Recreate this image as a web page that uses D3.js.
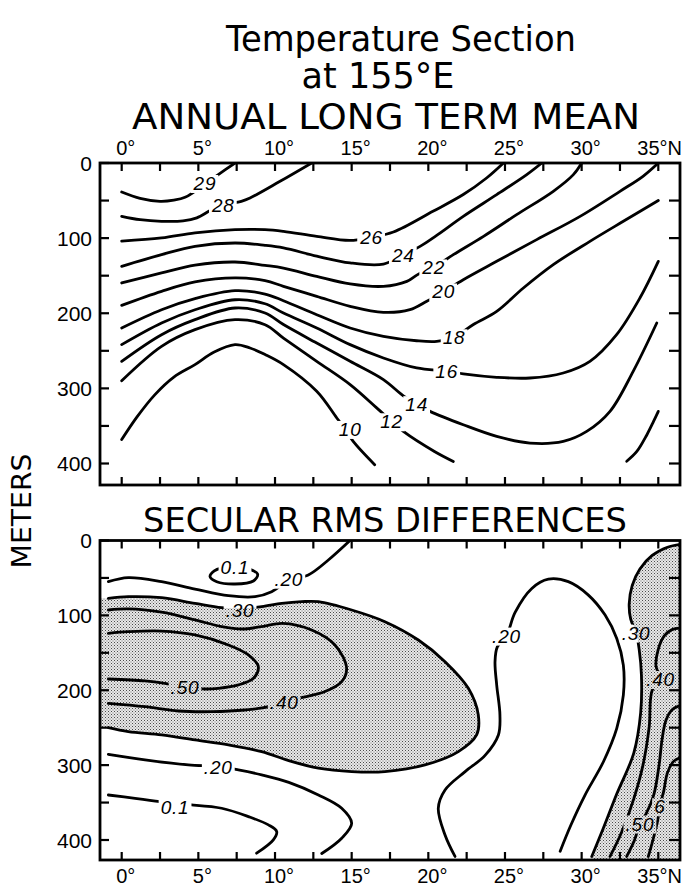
<!DOCTYPE html>
<html>
<head>
<meta charset="utf-8">
<script src="https://cdn.jsdelivr.net/npm/d3@7"></script>
<style>
  html, body { margin: 0; padding: 0; background: #fff; }
  svg { display: block; }
  text { font-family: "DejaVu Sans", "Liberation Sans", sans-serif; fill: #000; }
  .num { font-family: "Liberation Sans", "DejaVu Sans", sans-serif; }
</style>
</head>
<body>
<svg id="chart" width="690" height="888"></svg>
<script>
// ---- Axis ticks -------------------------------------------------------
const latTicks = [0, 5, 10, 15, 20, 25, 30, 35];
const latTickLabels = ["0°", "5°", "10°", "15°", "20°", "25°", "30°", "35°N"];
const latMinorTicks = [0, 2.5, 5, 7.5, 10, 12.5, 15, 17.5, 20, 22.5, 25, 27.5, 30, 32.5, 35];
const depthTicks = [0, 100, 200, 300, 400];
const depthMinorTicks = [0, 50, 100, 150, 200, 250, 300, 350, 400];

// ---- Annual long term mean temperature (°C): [latitude °N, depth m] ----
const t29 = [[0,38.6],[1.2,47],[2.5,51],[3.4,49.5],[4.13,45.7],[5.43,28],[6.3,15.5],[7.39,0]];
const t28 = [[0,71],[1.2,75.5],[2.6,77.6],[4.0,77],[4.9,73],[5.8,63],[6.63,55.5],[7.8,51],[8.37,46.6],[10.33,24.4],[12.39,0]];
const t26 = [[0,104],[2.6,99.8],[4.78,93],[7.39,88.7],[9.35,88.7],[10.55,91],[12.72,97.6],[14.9,103],[16.3,98.5],[17.72,91.8],[20.3,64.3],[22.28,42],[23.8,20],[24.9,0]];
const t24 = [[0,137.5],[2.6,122],[4.78,110.9],[7.39,106.5],[9.35,109.6],[10.55,113],[12.72,124],[14.9,133],[17.07,134.5],[18.37,122],[19.46,111],[20.5,97],[22.28,71],[24.46,42.1],[26.42,15.5],[27.4,0]];
const t22 = [[0,159.7],[2.6,146.4],[4.78,136],[7.39,131.8],[9.35,136.3],[10.55,139.8],[12.72,150.9],[14.9,161],[17.07,164.2],[18.6,157.6],[19.3,148.6],[20.35,139],[21.63,122],[23.6,97.6],[25.76,68.8],[28.15,37.7],[29.46,15.5],[30.0,0]];
const t20 = [[0,189.5],[2.6,170.8],[4.78,158.4],[7.39,153],[9.35,156.6],[10.55,164.2],[12.72,177.5],[14.9,190.8],[17.07,198.8],[18.8,195.2],[19.9,184],[21.0,171],[22.28,155.3],[24.46,130.9],[27.07,102],[29.9,71],[32.5,37.7],[34.0,17.7],[35,0]];
const t18 = [[0,219.6],[2.6,195.3],[4.78,180.6],[7.39,170],[9.35,174.4],[10.55,183.3],[12.72,201.9],[14.9,219.6],[17.07,230.8],[19.24,236.6],[20.55,237.4],[21.68,232],[22.94,215],[24.46,197.5],[26.2,166.4],[28.15,135.3],[30.54,104.3],[32.72,77.6],[35.0,50]];
const t16 = [[0,241.8],[2.6,213],[4.78,195.3],[7.39,182],[9.35,187.4],[10.55,199.7],[12.72,219.6],[14.9,241.8],[17.07,259.5],[19.24,272.8],[21.2,277],[22.28,280.8],[24.46,285.3],[26.63,286.2],[28.8,279.5],[30.54,264],[32.28,228.5],[33.8,179.7],[35.0,130.9]];
const t14 = [[0,264],[2.6,228.5],[4.78,208.5],[7.39,193],[9.35,199.7],[10.55,215],[12.72,239.6],[14.9,264],[17.07,288.4],[18.37,310],[19.24,321],[20.11,330.6],[22.28,348.4],[24.46,363.9],[26.63,372.8],[28.8,370.6],[30.33,357.3],[31.85,330.6],[33.37,277],[34.9,213]];
const t12 = [[0,289.8],[2.6,244],[4.78,221.8],[7.39,208.5],[9.35,215.2],[10.55,233],[12.72,264],[14.9,295],[16.63,326],[17.6,343.8],[18.37,357.3],[20.4,384],[21.63,397.3]];
const t12east = [[32.94,397],[33.6,384],[34.25,362],[34.69,344],[35.0,330.6]];
const t10 = [[0,368.2],[1.0,338],[2.17,308.3],[3.4,285],[4.78,268.4],[6.0,252],[7.39,241.8],[8.37,246.2],[9.35,255],[10.55,268.4],[12.72,303.9],[14.03,339.4],[14.6,355],[15.1,370.6],[16.5,401.6]];
const meanLabels = [
  ["29", 5.43, 26.6], ["28", 6.63, 55.5], ["26", 16.3, 98.5], ["24", 18.37, 122],
  ["22", 20.35, 139], ["20", 21.0, 171], ["18", 21.68, 232], ["16", 21.2, 277],
  ["14", 19.24, 321], ["12", 17.6, 343.8], ["10", 14.9, 354]
];

// ---- Secular RMS differences (°C): [latitude °N, depth m] ----------------
const r20north = [[-0.87,55],[0.43,49.6],[2.6,55],[4.78,64.8],[6.96,73.7],[8.7,75],[9.78,68.4],[10.9,53],[12.17,46],[13.48,26],[14.89,0]];
const r01loop = [[8.37,38.5],[8.87,45.2],[8.59,54.1],[7.39,58.1],[6.2,55],[5.76,48.3],[6.04,40.7],[6.48,37],[7.39,35.5]];
const r30 = [[-0.87,77.2],[0.43,75],[2.6,76.4],[4.78,84],[6.52,89.7],[7.72,90.5],[9.13,88.4],[10.44,84],[11.74,81.7],[12.83,81.7],[15.0,92.8],[17.17,108.4],[19.35,132.9],[21.09,161.8],[22.61,197.4],[23.26,233],[23.15,259.7],[21.96,281.9],[19.78,299.7],[17.17,308.6],[15.0,308.6],[12.83,304.1],[10.9,294],[9.13,282],[6.96,273],[4.78,266.4],[2.6,259.7],[0.43,255.3],[-0.87,250]];
const r40 = [[-0.87,92.8],[0.43,91.4],[2.6,95.8],[4.78,106],[6.52,115],[7.83,118.2],[9.13,115],[10.5,110.6],[12.39,119.5],[13.91,139.5],[14.67,170.6],[14.35,188.4],[13.26,201.7],[11.74,209.7],[10.6,214],[9.57,222],[8.04,226.4],[5.87,228.6],[3.7,227.7],[1.52,222],[-0.87,217.5]];
const r50 = [[-0.87,124],[0.43,121.8],[2.6,120.9],[4.78,126.2],[6.96,139.5],[8.26,152.8],[8.91,168.4],[8.59,184],[7.61,192.9],[6.3,197.4],[5.43,198.3],[4.13,195.2],[2.82,190.7],[1.52,187.6],[-0.87,185]];
const r20south = [[-0.87,285.6],[1.52,293],[4.35,299.7],[6.3,302],[7.61,306.4],[9.13,313],[10.9,323],[12.83,339.8],[14.35,357.6],[15.0,377.6],[14.35,397.6],[13.05,418]];
const r01south = [[-0.87,339.9],[0.87,344.3],[2.5,348.8],[3.48,352],[4.56,353.2],[6.52,357.6],[8.26,368.7],[9.57,379.8],[10.11,388.7],[9.89,399.8],[8.8,417.6]];
const r20mid = [[21.74,422],[21.09,393.3],[20.65,357.6],[21.09,333.2],[22.4,308.7],[23.7,287],[24.57,259.7],[24.67,233],[24.46,193],[24.35,162],[24.5,142],[25.1,127],[25.66,96],[26.75,64],[27.83,51.6],[29.13,55],[30.44,72.9],[31.53,99.6],[32.29,130.8],[32.72,166.4],[32.72,206.5],[32.29,251],[31.42,295.5],[30.22,340],[29.3,380],[28.6,415]];
const r30east = [[36.45,5],[35.6,9],[34.6,20],[33.8,38],[33.3,60],[33.1,85],[33.2,105],[33.55,123],[33.75,145],[33.9,180],[33.85,230],[33.4,284],[32.3,338],[31.4,385],[30.66,422]];
const r40east = [[36.45,117],[35.9,119],[35.4,127],[35.0,145],[34.85,168],[35.15,185],[34.6,200],[34.4,250],[34.0,300],[33.4,345],[32.6,390],[31.85,422]];
const r50east = [[36.45,220],[35.9,226],[35.5,240],[35.25,265],[35.05,300],[34.7,340],[34.2,365],[33.8,378],[33.45,400],[32.94,422]];
const r60east = [[36.45,290],[36.0,295],[35.6,310],[35.35,335],[35.1,355],[34.95,375],[34.65,400],[34.35,422]];
const rmsLabels = [
  ["0.1", 7.39, 35.5], [".20", 10.9, 51], [".30", 7.72, 92.8], [".50", 4.13, 195.2],
  [".40", 10.6, 215.3], [".20", 6.3, 302], ["0.1", 3.48, 355.4], [".20", 25.1, 127],
  [".30", 33.55, 123], [".40", 35.15, 185], ["6", 35.1, 355], [".50", 33.8, 378]
];

// ---- Layout -------------------------------------------------------------
const W = 690, H = 888;
const frameL = 100, frameR = 680;
const x = d3.scaleLinear().domain([0, 35]).range([121.7, 658.3]);
const panels = [
  { id: "mean", top: 163, bottom: 485, y: d3.scaleLinear().domain([0, 400]).range([163, 463.5]),
    open: [t29, t28, t26, t24, t22, t20, t18, t16, t14, t12, t12east, t10], closed: [], labels: meanLabels,
    shades: [], tickRow: "top" },
  { id: "rms", top: 540.5, bottom: 860, y: d3.scaleLinear().domain([0, 400]).range([540.5, 840]),
    open: [r20north, r30, r40, r50, r20south, r01south, r20mid, r30east, r40east, r50east, r60east],
    closed: [r01loop], labels: rmsLabels,
    shades: [{ line: r30, side: "west" }, { line: r30east, side: "east" }], tickRow: "bottom" }
];

const svg = d3.select("#chart");
const defs = svg.append("defs");

// stippled tone for the shaded areas
const pat = defs.append("pattern").attr("id", "stipple")
  .attr("patternUnits", "userSpaceOnUse").attr("width", 3).attr("height", 3);
pat.append("rect").attr("width", 3).attr("height", 3).attr("fill", "#e8e8e8");
pat.append("rect").attr("x", 0).attr("y", 0).attr("width", 1).attr("height", 1).attr("fill", "#4a4a4a");
pat.append("rect").attr("x", 1.5).attr("y", 1.5).attr("width", 1).attr("height", 1).attr("fill", "#707070");

// ---- Titles -------------------------------------------------------------
function title(txt, cx, baseline, size, len) {
  svg.append("text").attr("x", cx).attr("y", baseline).attr("text-anchor", "middle")
    .attr("font-size", size).attr("textLength", len).attr("lengthAdjust", "spacingAndGlyphs")
    .text(txt);
}
title("Temperature Section", 401, 51, 35, 350);
title("at 155°E", 378, 88, 36, 153);
title("ANNUAL LONG TERM MEAN", 386, 129, 36, 508);
title("SECULAR RMS DIFFERENCES", 385, 532, 34, 484);

svg.append("text").attr("transform", "translate(31,511) rotate(-90)")
  .attr("text-anchor", "middle").attr("font-size", 27)
  .attr("textLength", 115).attr("lengthAdjust", "spacingAndGlyphs").text("METERS");

// ---- Panels -------------------------------------------------------------
panels.forEach(p => {
  const y = p.y;
  const line = d3.line().x(d => x(d[0])).y(d => y(d[1])).curve(d3.curveCatmullRom.alpha(0.5));
  const loop = d3.line().x(d => x(d[0])).y(d => y(d[1])).curve(d3.curveCatmullRomClosed.alpha(0.5));

  defs.append("clipPath").attr("id", "clip-" + p.id).append("rect")
    .attr("x", frameL).attr("y", p.top).attr("width", frameR - frameL).attr("height", p.bottom - p.top);

  const body = svg.append("g").attr("clip-path", "url(#clip-" + p.id + ")");

  // shaded areas bounded by a contour and the frame
  p.shades.forEach(s => {
    const pts = s.line;
    const first = pts[0], last = pts[pts.length - 1];
    let d = line(pts);
    if (s.side === "west") {
      d += `L${frameL - 2},${y(last[1])}L${frameL - 2},${y(first[1])}Z`;
    } else {
      d += `L${x(last[0])},${p.bottom + 2}L${frameR + 2},${p.bottom + 2}L${frameR + 2},${y(first[1])}Z`;
    }
    body.append("path").attr("d", d).attr("fill", "url(#stipple)");
  });

  // contour labels (measured first so the lines can be broken around them)
  const labelG = svg.append("g");
  const texts = labelG.selectAll("text").data(p.labels).join("text")
    .attr("class", "num")
    .attr("x", d => x(d[1])).attr("y", d => y(d[2]) + 7)
    .attr("text-anchor", "middle").attr("font-size", 19).attr("font-style", "italic")
    .attr("letter-spacing", 0.8)
    .text(d => d[0]);

  const mask = defs.append("mask").attr("id", "gap-" + p.id).attr("maskUnits", "userSpaceOnUse")
    .attr("x", 0).attr("y", 0).attr("width", W).attr("height", H);
  mask.append("rect").attr("width", W).attr("height", H).attr("fill", "#fff");
  texts.each(function () {
    const b = this.getBBox();
    mask.append("rect").attr("x", b.x - 2).attr("y", b.y + 2).attr("width", b.width + 4)
      .attr("height", b.height - 3).attr("fill", "#000");
  });

  const lines = body.append("g").attr("mask", "url(#gap-" + p.id + ")")
    .attr("fill", "none").attr("stroke", "#000").attr("stroke-width", 2.8)
    .attr("stroke-linecap", "round").attr("stroke-linejoin", "round");
  lines.selectAll("path.open").data(p.open).join("path").attr("class", "open").attr("d", line);
  lines.selectAll("path.closed").data(p.closed).join("path").attr("class", "closed").attr("d", loop);

  labelG.raise();

  // frame and ticks
  const axes = svg.append("g").attr("stroke", "#000").attr("fill", "none");
  axes.append("rect").attr("x", frameL).attr("y", p.top).attr("width", frameR - frameL)
    .attr("height", p.bottom - p.top).attr("stroke-width", 2.8);
  const tk = axes.append("g").attr("stroke-width", 2.2);
  latMinorTicks.forEach(v => {
    tk.append("line").attr("x1", x(v)).attr("x2", x(v)).attr("y1", p.top).attr("y2", p.top + 8);
    tk.append("line").attr("x1", x(v)).attr("x2", x(v)).attr("y1", p.bottom).attr("y2", p.bottom - 8);
  });
  depthMinorTicks.forEach(v => {
    tk.append("line").attr("x1", frameL).attr("x2", frameL + 9).attr("y1", y(v)).attr("y2", y(v));
    if (v > 0) tk.append("line").attr("x1", frameR).attr("x2", frameR - 11).attr("y1", y(v)).attr("y2", y(v));
  });

  // depth labels
  svg.append("g").selectAll("text").data(depthTicks).join("text")
    .attr("class", "num")
    .attr("x", 92).attr("y", d => y(d) + 7.5).attr("text-anchor", "end")
    .attr("font-size", 21).text(d => d);

  // latitude labels
  const rowY = p.tickRow === "top" ? p.top - 8 : p.bottom + 23;
  svg.append("g").selectAll("text").data(latTicks).join("text")
    .attr("class", "num")
    .attr("x", (d, i) => i === latTicks.length - 1 ? x(d) - 21 : x(d) + 4)
    .attr("y", rowY)
    .attr("text-anchor", (d, i) => i === latTicks.length - 1 ? "start" : "middle")
    .attr("font-size", 20).text((d, i) => latTickLabels[i]);
});
</script>
</body>
</html>
